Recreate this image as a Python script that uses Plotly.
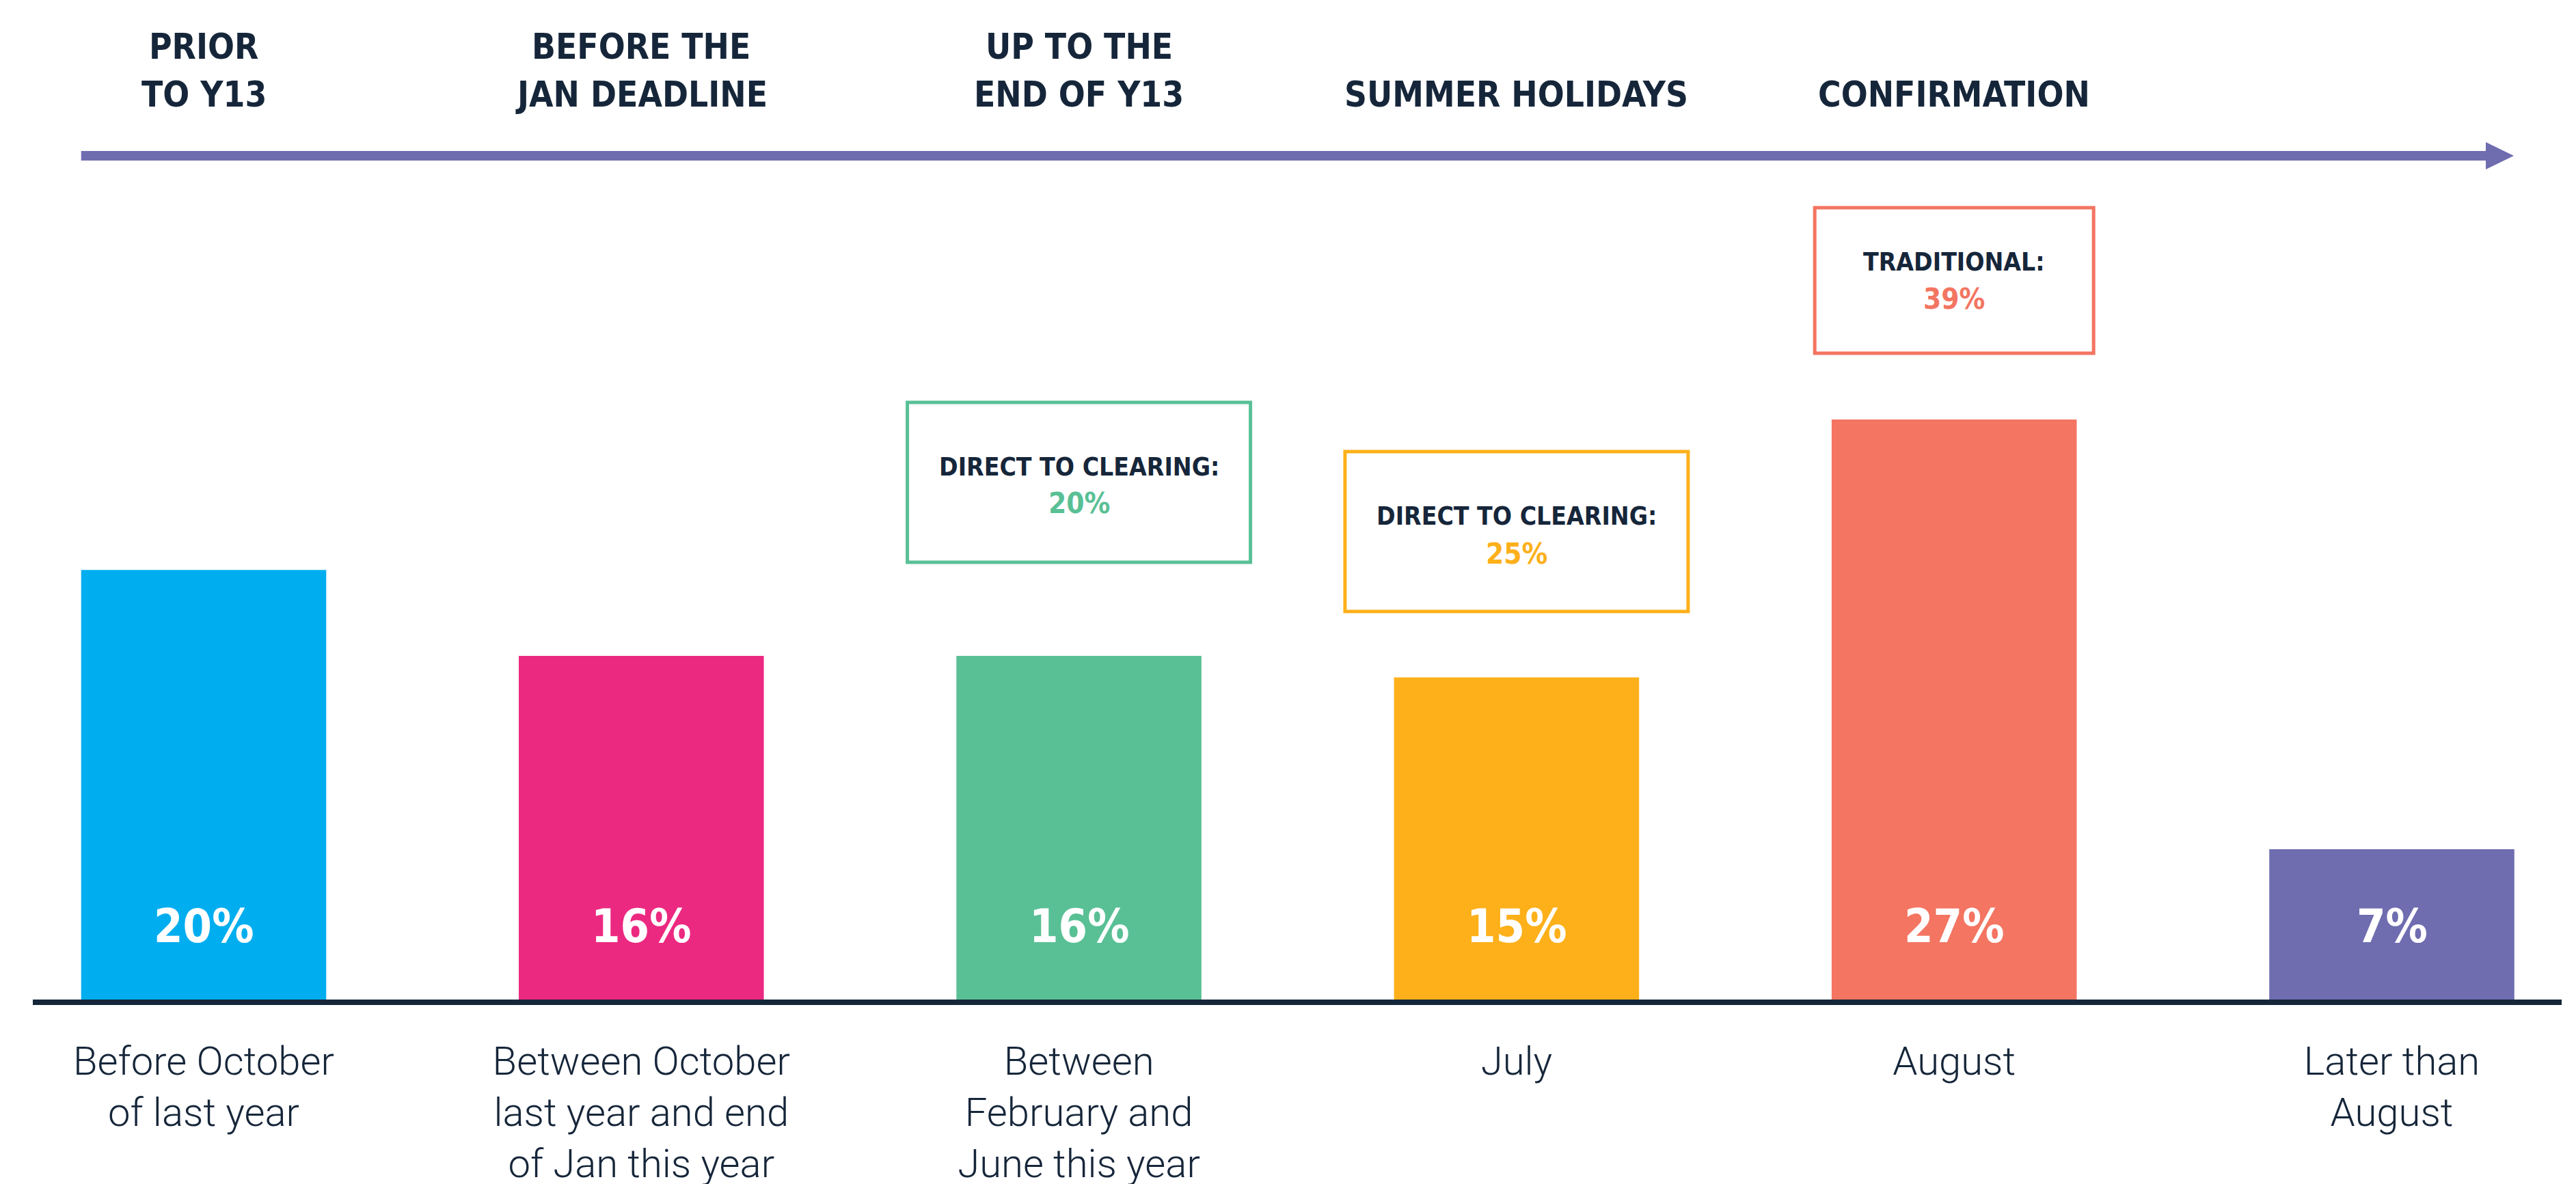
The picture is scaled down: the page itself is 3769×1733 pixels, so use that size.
import plotly.graph_objects as go

# ---------------- data ----------------
categories = [
    "Before October<br>of last year",
    "Between October<br>last year and end<br>of Jan this year",
    "Between<br>February and<br>June this year",
    "July",
    "August",
    "Later than<br>August",
]
values = [20, 16, 16, 15, 27, 7]
value_labels = ["20%", "16%", "16%", "15%", "27%", "7%"]
bar_colors = ["#00AEEF", "#EC2980", "#59C095", "#FDB01A", "#F37562", "#6F6DB0"]

stage_headers = [
    ["PRIOR", "TO Y13"],
    ["BEFORE THE", "JAN DEADLINE"],
    ["UP TO THE", "END OF Y13"],
    ["SUMMER HOLIDAYS"],
    ["CONFIRMATION"],
]

callout_positions = [2, 3, 4]
callout_titles = ["DIRECT TO CLEARING:", "DIRECT TO CLEARING:", "TRADITIONAL:"]
callout_values = ["20%", "25%", "39%"]
callout_colors = ["#59C095", "#FDB01A", "#F37562"]

# ---------------- styling ----------------
NAVY = "#16263A"
PURPLE = "#6F6DB0"
COND = "Liberation Sans Narrow, DejaVu Sans Condensed, Arial Narrow, sans-serif"
W, H = 3769, 1733
BASE = 1455          # pixel row of the baseline
MT, MB = 0, H - BASE
ML, MR = 40, 29
PX_PER_UNIT_Y = 31.44
PX_PER_CAT = 640.3
X0_PX = 290          # pixel centre of first category


def py(p):
    """pixel row -> paper y"""
    return (BASE - p) / (H - MT - MB)


def xc(p):
    """pixel column -> x data"""
    return (p - X0_PX) / PX_PER_CAT


x = list(range(len(categories)))

fig = go.Figure()
fig.add_trace(go.Bar(
    x=x, y=values, width=0.56,
    marker=dict(color=bar_colors, line=dict(width=0)),
    hoverinfo="skip",
))

annotations = []
# value labels inside bars
for xi, lab in zip(x, value_labels):
    annotations.append(dict(
        x=xi, y=0, xref="x", yref="y", text=lab, showarrow=False,
        yanchor="middle", yshift=BASE - 1347,
        font=dict(family=COND, size=68, color="white", weight="bold"),
    ))

# stage headers
line_centres_two = [61, 130]
for xi, lines in enumerate(stage_headers):
    rows = line_centres_two if len(lines) == 2 else [130]
    for txt, r in zip(lines, rows):
        annotations.append(dict(
            x=xi, y=py(r), xref="x", yref="paper", text=txt, showarrow=False,
            yanchor="middle",
            font=dict(family=COND, size=51, color=NAVY, weight="bold"),
        ))

shapes = []
# timeline arrow
shapes.append(dict(type="rect", xref="x", yref="paper",
                   x0=-0.28, x1=xc(3631), y0=py(227), y1=py(213),
                   fillcolor=PURPLE, line=dict(width=0)))
shapes.append(dict(type="path", xref="x", yref="paper",
                   path=f"M {xc(3629)} {py(200)} L {xc(3670)} {py(220)} L {xc(3629)} {py(240)} Z",
                   fillcolor=PURPLE, line=dict(width=0)))

# callout boxes
box_geo = {
    2: dict(half=251, top=581, bottom=815, d1=-23, d2=30),
    3: dict(half=251, top=653, bottom=887, d1=-22, d2=32),
    4: dict(half=204, top=296, bottom=509, d1=-27, d2=27),
}
for pos, title, val, col in zip(callout_positions, callout_titles, callout_values, callout_colors):
    g = box_geo[pos]
    shapes.append(dict(type="rect", xref="x", yref="paper",
                       x0=pos - g["half"] / PX_PER_CAT, x1=pos + g["half"] / PX_PER_CAT,
                       y0=py(g["bottom"]), y1=py(g["top"]),
                       line=dict(color=col, width=5), fillcolor="rgba(0,0,0,0)"))
    mid = (g["top"] + g["bottom"]) / 2
    annotations.append(dict(
        x=pos, y=py(mid + g["d1"]), xref="x", yref="paper", text=title, showarrow=False,
        yanchor="middle", font=dict(family=COND, size=37, color=NAVY, weight="bold"),
    ))
    annotations.append(dict(
        x=pos, y=py(mid + g["d2"]), xref="x", yref="paper", text=val, showarrow=False,
        yanchor="middle", font=dict(family=COND, size=42, color=col, weight="bold"),
    ))

fig.update_layout(
    width=W, height=H,
    margin=dict(l=ML, r=MR, t=MT, b=MB, pad=0, autoexpand=False),
    paper_bgcolor="white", plot_bgcolor="white",
    showlegend=False,
    annotations=annotations,
    shapes=shapes,
    xaxis=dict(
        range=[xc(ML), xc(W - MR)],
        tickmode="array", tickvals=x, ticktext=categories,
        showgrid=False, zeroline=False,
        showline=True, linecolor=NAVY, linewidth=8,
        ticks="", ticklabelstandoff=32, automargin=False,
        tickfont=dict(family="Roboto", size=58, color=NAVY, weight=300),
        fixedrange=True,
    ),
    yaxis=dict(
        range=[0, (H - MT - MB) / PX_PER_UNIT_Y],
        visible=False, showgrid=False, zeroline=False, fixedrange=True,
        automargin=False,
    ),
)

fig.write_html("out.html")
